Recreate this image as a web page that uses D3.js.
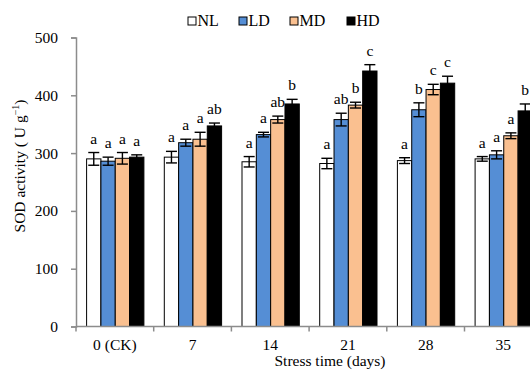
<!DOCTYPE html>
<html>
<head>
<meta charset="utf-8">
<script src="https://cdn.jsdelivr.net/npm/d3@7"></script>
<style>
  body { margin: 0; background: #fff; }
  svg, svg text { font-family: "Liberation Serif", "Times New Roman", serif; }
  svg { display: block; }
  .tick text { font-size: 15.5px; fill: #000; }
</style>
</head>
<body>
<div id="chart"></div>
<script>
// data
const categories = ["0 (CK)", "7", "14", "21", "28", "35"];
const seriesNames = ["NL", "LD", "MD", "HD"];
const seriesColors = ["#ffffff", "#558ed5", "#fac090", "#000000"];

const NL = [290, 293, 285, 282, 287, 290];
const LD = [286, 318, 332, 358, 375, 297];
const MD = [291, 324, 358, 383, 410, 330];
const HD = [293, 347, 385, 442, 421, 373];

const NLerr = [11, 10, 9, 9, 5, 4];
const LDerr = [7, 6, 4, 11, 12, 7];
const MDerr = [10, 12, 6, 5, 9, 5];
const HDerr = [4, 5, 8, 11, 12, 12];

const NLsig = ["a", "a", "a", "a", "a", "a"];
const LDsig = ["a", "a", "a", "ab", "b", "a"];
const MDsig = ["a", "a", "ab", "b", "c", "a"];
const HDsig = ["a", "ab", "b", "c", "c", "b"];

const yTicks = [0, 100, 200, 300, 400, 500];

const values = [NL, LD, MD, HD];
const errors = [NLerr, LDerr, MDerr, HDerr];
const letters = [NLsig, LDsig, MDsig, HDsig];

const W = 530, H = 372;
const plotLeft = 76, plotTop = 37.5, plotBottom = 326.5;
const catW = 77.7;

const svg = d3.select("#chart").append("svg")
  .attr("width", W)
  .attr("height", H);

// scales
const x0 = d3.scaleBand()
  .domain(categories)
  .range([plotLeft, plotLeft + catW * categories.length]);

const x1 = d3.scaleBand()
  .domain(seriesNames)
  .range([10.6, 10.6 + 57.3]);

const y = d3.scaleLinear()
  .domain([0, 500])
  .range([plotBottom, plotTop]);

// flatten for drawing
const rows = [];
categories.forEach((c, i) => {
  seriesNames.forEach((s, j) => {
    rows.push({cat: c, s: s, j: j, v: values[j][i], e: errors[j][i], lab: letters[j][i]});
  });
});

// bars
svg.append("g")
  .selectAll("rect")
  .data(rows)
  .join("rect")
    .attr("x", d => x0(d.cat) + x1(d.s))
    .attr("y", d => y(d.v))
    .attr("width", x1.bandwidth())
    .attr("height", d => y(0) - y(d.v))
    .attr("fill", d => seriesColors[d.j])
    .attr("stroke", "#000")
    .attr("stroke-width", 1);

// error bars
const eb = svg.append("g")
  .attr("stroke", "#000")
  .attr("stroke-width", 1.4)
  .attr("fill", "none");
const cap = 5.5;
rows.forEach(d => {
  const cx = x0(d.cat) + x1(d.s) + x1.bandwidth() / 2;
  const yt = y(d.v + d.e), yb = y(d.v - d.e);
  eb.append("line").attr("x1", cx).attr("x2", cx).attr("y1", yt).attr("y2", yb);
  eb.append("line").attr("x1", cx - cap).attr("x2", cx + cap).attr("y1", yt).attr("y2", yt);
  eb.append("line").attr("x1", cx - cap).attr("x2", cx + cap).attr("y1", yb).attr("y2", yb);
});

// significance letters
svg.append("g")
  .selectAll("text")
  .data(rows)
  .join("text")
    .attr("x", d => x0(d.cat) + x1(d.s) + x1.bandwidth() / 2)
    .attr("y", d => y(d.v + d.e) - 9)
    .attr("text-anchor", "middle")
    .attr("font-size", "15.5px")
    .attr("fill", "#000")
    .text(d => d.lab);

// y axis
svg.append("g")
  .attr("transform", `translate(${plotLeft},0)`)
  .call(d3.axisLeft(y).tickValues(yTicks).tickSize(5).tickPadding(13))
  .attr("font-family", null)
  .attr("font-size", null)
  .call(g => g.selectAll("line, path").attr("stroke", "#8c8c8c").attr("stroke-width", 1.5));

// x axis with ticks at category boundaries
const xAxis = svg.append("g")
  .attr("transform", `translate(0,${plotBottom})`);
xAxis.append("line")
  .attr("x1", plotLeft).attr("x2", x0.range()[1])
  .attr("stroke", "#8c8c8c").attr("stroke-width", 1.5);
xAxis.selectAll(".sep")
  .data(categories.concat(["end"]))
  .join("line")
    .attr("class", "sep")
    .attr("x1", (d, i) => plotLeft + i * x0.bandwidth())
    .attr("x2", (d, i) => plotLeft + i * x0.bandwidth())
    .attr("y1", 0).attr("y2", 5)
    .attr("stroke", "#8c8c8c").attr("stroke-width", 1.5);
xAxis.selectAll(".lab")
  .data(categories)
  .join("text")
    .attr("class", "lab")
    .attr("x", d => x0(d) + x0.bandwidth() / 2)
    .attr("y", 23)
    .attr("text-anchor", "middle")
    .attr("font-size", "15.5px")
    .text(d => d);

// axis titles
svg.append("text")
  .attr("x", 330)
  .attr("y", 366)
  .attr("text-anchor", "middle")
  .attr("font-size", "15.5px")
  .text("Stress time (days)");

const ytitle = svg.append("text")
  .attr("transform", "translate(25,166) rotate(-90)")
  .attr("text-anchor", "middle")
  .attr("font-size", "15.5px");
ytitle.append("tspan").text("SOD activity ( U g");
ytitle.append("tspan").attr("dy", -6).attr("font-size", "10px").text("\u22121");
ytitle.append("tspan").attr("dy", 6).text(")");

// legend
const legX = [188, 239, 290, 347];
const leg = svg.append("g")
  .selectAll("g")
  .data(seriesNames)
  .join("g")
    .attr("transform", (d, i) => `translate(${legX[i]},17)`);
leg.append("rect")
  .attr("width", 8).attr("height", 8)
  .attr("fill", (d, i) => seriesColors[i])
  .attr("stroke", "#000").attr("stroke-width", 1);
leg.append("text")
  .attr("x", 9.5)
  .attr("y", 9)
  .attr("font-size", "16px")
  .text(d => d);
</script>
</body>
</html>
